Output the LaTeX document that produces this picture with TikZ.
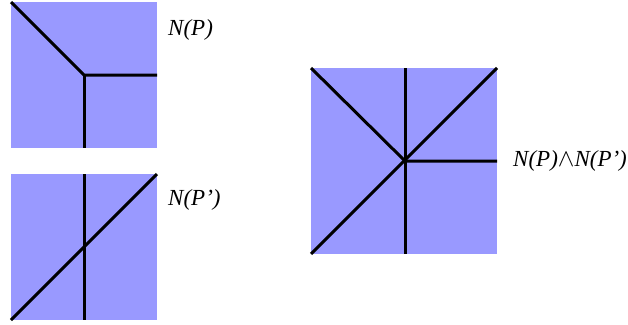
\documentclass[tikz,border=0pt]{standalone}
\usepackage{fontspec}
\setmainfont{Liberation Serif}
\definecolor{fanblue}{RGB}{153,153,255}
\tikzset{
  fanline/.style={line width=3pt, black},
  fanlabel/.style={anchor=west, inner sep=0pt, font=\fontsize{23}{25}\selectfont\itshape}
}
\begin{document}
\begin{tikzpicture}[x=1pt,y=-1pt]
  \useasboundingbox (0,0) rectangle (628,324);

  % top left: N(P)
  \fill[fanblue] (11,2) rectangle (157,148);
  \draw[fanline] (11,2) -- (84,75) -- (157,75);
  \draw[fanline] (84,75) -- (84,148);
  \node[fanlabel] (np) at (168,30) {N(P)};

  % bottom left: N(P')
  \fill[fanblue] (11,174) rectangle (157,320);
  \draw[fanline] (84,174) -- (84,320);
  \draw[fanline] (11,320) -- (157,174);
  \node[fanlabel] (npp) at (168,200) {N(P’)};

  % right: common refinement
  \fill[fanblue] (311,68) rectangle (497,254);
  \draw[fanline] (405,68) -- (405,254);
  \draw[fanline] (311,254) -- (497,68);
  \draw[fanline] (311,68) -- (405,161) -- (497,161);
  \node[fanlabel] (meet) at (513,161) {N(P)$\wedge$N(P’)};
\end{tikzpicture}
\end{document}
